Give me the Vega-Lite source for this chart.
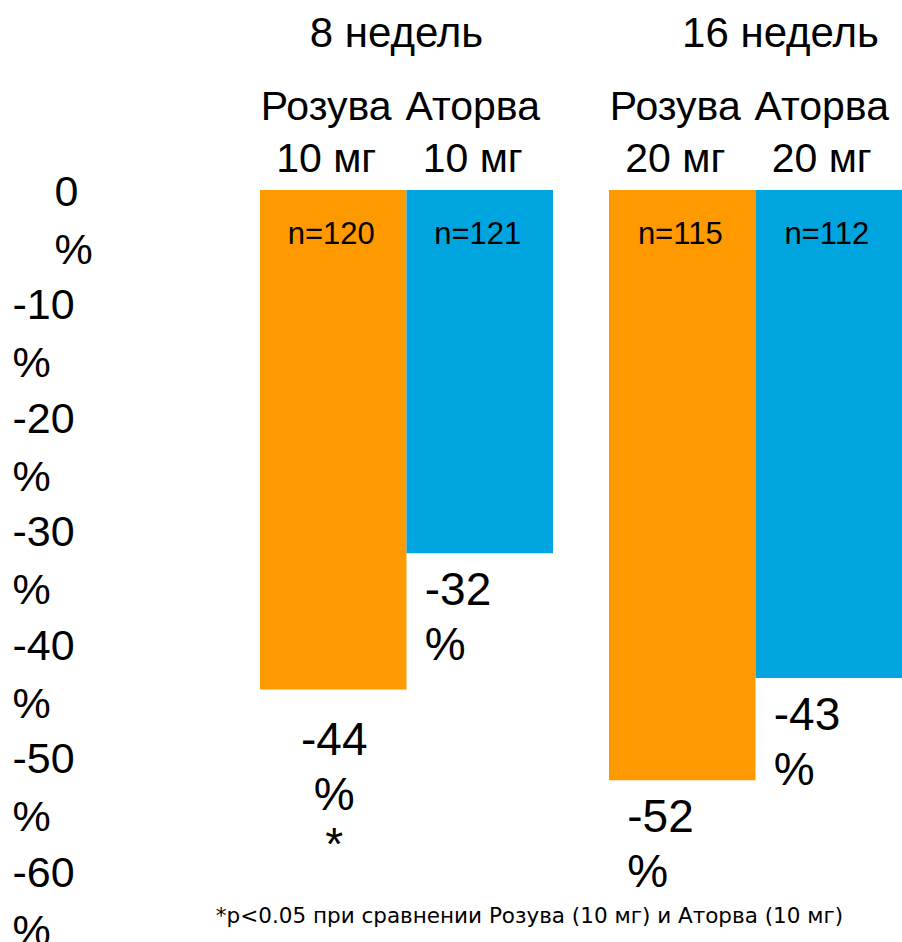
{
  "$schema": "https://vega.github.io/schema/vega-lite/v6.json",
  "width": 642,
  "height": 681,
  "autosize": {"type": "none"},
  "padding": {"left": 260, "top": 190, "right": 0, "bottom": 71},
  "background": "white",
  "config": {
    "view": {"stroke": null},
    "text": {"font": "Liberation Sans", "color": "black"}
  },
  "datasets": {
    "bars": [
      {"week": "8 недель", "drug": "Розува", "dose": "10 мг", "value": -44, "n": "n=120", "sig": "*"},
      {"week": "8 недель", "drug": "Аторва", "dose": "10 мг", "value": -32, "n": "n=121", "sig": ""},
      {"week": "16 недель", "drug": "Розува", "dose": "20 мг", "value": -52, "n": "n=115", "sig": ""},
      {"week": "16 недель", "drug": "Аторва", "dose": "20 мг", "value": -43, "n": "n=112", "sig": ""}
    ],
    "notes": [
      {"week": "8 недель", "value": -60, "note": "*p<0.05 при сравнении Розува (10 мг) и Аторва (10 мг)"}
    ]
  },
  "data": {"name": "bars"},
  "encoding": {
    "x": {
      "field": "week",
      "type": "nominal",
      "sort": ["8 недель", "16 недель"],
      "scale": {"paddingInner": 0.1605, "paddingOuter": 0},
      "axis": {
        "orient": "top",
        "title": null,
        "domain": false,
        "ticks": false,
        "tickSize": 0,
        "labelAngle": 0,
        "labelLimit": 500,
        "labelFont": "Liberation Sans",
        "labelFontSize": 42,
        "labelColor": "black",
        "labelBaseline": "middle",
        "labelPadding": 157,
        "labelOffset": {"condition": {"test": "datum.value == '8 недель'", "value": -10}, "value": 25}
      }
    },
    "y": {
      "field": "value",
      "type": "quantitative",
      "scale": {"domain": [-60, 0], "nice": false},
      "axis": {
        "title": null,
        "grid": false,
        "domain": false,
        "ticks": false,
        "tickSize": 0,
        "values": [0, -10, -20, -30, -40, -50, -60],
        "labelExpr": "datum.value == 0 ? ['0', '%'] : ['-' + abs(datum.value), '%']",
        "labelAlign": "left",
        "labelBaseline": "middle",
        "labelOffset": 2,
        "labelPadding": {"condition": {"test": "datum.value == 0", "value": 206}, "value": 248},
        "labelFont": "Liberation Sans",
        "labelFontSize": 43,
        "labelLineHeight": 58,
        "labelColor": "black"
      }
    }
  },
  "layer": [
    {
      "mark": {"type": "bar"},
      "encoding": {
        "xOffset": {"field": "drug", "type": "nominal", "sort": ["Розува", "Аторва"], "scale": {"paddingInner": 0, "paddingOuter": 0}},
        "color": {
          "field": "drug",
          "type": "nominal",
          "scale": {"domain": ["Розува", "Аторва"], "range": ["#FF9900", "#00A5DF"]},
          "legend": null
        }
      }
    },
    {
      "mark": {"type": "text", "fontSize": 41, "baseline": "middle", "dy": -82, "dx": -7},
      "encoding": {
        "xOffset": {"field": "drug", "type": "nominal", "sort": ["Розува", "Аторва"]},
        "y": {"datum": 0},
        "text": {"field": "drug"}
      }
    },
    {
      "mark": {"type": "text", "fontSize": 41, "baseline": "middle", "dy": -30, "dx": -7},
      "encoding": {
        "xOffset": {"field": "drug", "type": "nominal", "sort": ["Розува", "Аторва"]},
        "y": {"datum": 0},
        "text": {"field": "dose"}
      }
    },
    {
      "mark": {"type": "text", "fontSize": 31, "baseline": "middle", "dy": 45, "dx": -2},
      "encoding": {
        "xOffset": {"field": "drug", "type": "nominal", "sort": ["Розува", "Аторва"]},
        "y": {"datum": 0},
        "text": {"field": "n"}
      }
    },
    {
      "transform": [{"filter": "datum.sig == '*'"}],
      "mark": {"type": "text", "fontSize": 46, "baseline": "middle", "dy": 52, "dx": 1},
      "encoding": {
        "xOffset": {"field": "drug", "type": "nominal", "sort": ["Розува", "Аторва"]},
        "text": {"field": "value", "type": "nominal"}
      }
    },
    {
      "transform": [{"filter": "datum.sig == '*'"}],
      "mark": {"type": "text", "fontSize": 46, "baseline": "middle", "dy": 107, "dx": 1},
      "encoding": {
        "xOffset": {"field": "drug", "type": "nominal", "sort": ["Розува", "Аторва"]},
        "text": {"value": "%"}
      }
    },
    {
      "transform": [{"filter": "datum.sig == '*'"}],
      "mark": {"type": "text", "fontSize": 46, "baseline": "middle", "dy": 157, "dx": 1},
      "encoding": {
        "xOffset": {"field": "drug", "type": "nominal", "sort": ["Розува", "Аторва"]},
        "text": {"field": "sig"}
      }
    },
    {
      "transform": [{"filter": "datum.sig != '*'"}],
      "mark": {"type": "text", "fontSize": 46, "baseline": "middle", "align": "left", "dx": -55, "dy": 38},
      "encoding": {
        "xOffset": {"field": "drug", "type": "nominal", "sort": ["Розува", "Аторва"]},
        "text": {"field": "value", "type": "nominal"}
      }
    },
    {
      "transform": [{"filter": "datum.sig != '*'"}],
      "mark": {"type": "text", "fontSize": 46, "baseline": "middle", "align": "left", "dx": -55, "dy": 93},
      "encoding": {
        "xOffset": {"field": "drug", "type": "nominal", "sort": ["Розува", "Аторва"]},
        "text": {"value": "%"}
      }
    },
    {
      "data": {"name": "notes"},
      "mark": {"type": "text", "font": "DejaVu Sans", "fontSize": 21.5, "baseline": "middle", "dx": 123, "dy": 46},
      "encoding": {
        "text": {"field": "note"}
      }
    }
  ]
}
